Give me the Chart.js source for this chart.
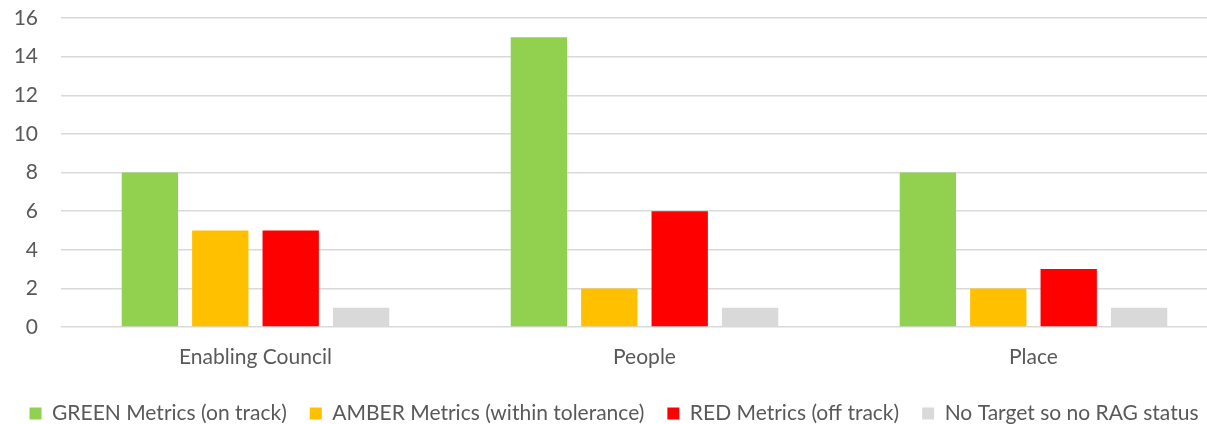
<!DOCTYPE html>
<html>
<head>
<meta charset="utf-8">
<script src="https://cdn.jsdelivr.net/npm/chart.js@4"></script>
<style>
html,body{margin:0;padding:0;background:#fff;overflow:hidden;}
#wrap{width:1228px;height:424px;}
</style>
</head>
<body>
<div id="wrap"><canvas id="c" width="1228" height="424"></canvas></div>
<script>
const categories = ["Enabling Council", "People", "Place"];
const greenValues = [8, 15, 8];
const amberValues = [5, 2, 2];
const redValues = [5, 6, 3];
const noTargetValues = [1, 1, 1];
const seriesNames = ["GREEN Metrics (on track)", "AMBER Metrics (within tolerance)", "RED Metrics (off track)", "No Target so no RAG status"];
const seriesColors = ["#92D050", "#FFC000", "#FF0000", "#D9D9D9"];
const yTicks = [0, 2, 4, 6, 8, 10, 12, 14, 16];

const FONT = "Lato, 'Open Sans', sans-serif";
const TEXT = "#595959";
const allValues = [greenValues, amberValues, redValues, noTargetValues];

new Chart(document.getElementById('c'), {
  type: 'bar',
  data: {
    labels: categories,
    datasets: allValues.map((v, i) => ({
      label: seriesNames[i],
      data: v,
      backgroundColor: seriesColors[i],
      borderWidth: 0,
      categoryPercentage: 0.724,
      barPercentage: 0.8
    }))
  },
  options: {
    responsive: false,
    animation: false,
    layout: { autoPadding: false, padding: { top: 18, left: 0, right: 0, bottom: -10 } },
    plugins: {
      tooltip: { enabled: false },
      legend: {
        position: 'bottom',
        labels: {
          font: { family: FONT, size: 21 },
          color: TEXT,
          boxWidth: 12,
          boxHeight: 12,
          padding: 23
        }
      }
    },
    scales: {
      x: {
        grid: { display: false, drawTicks: false },
        border: { display: false },
        ticks: { font: { family: FONT, size: 21 }, color: TEXT, padding: 18 },
        afterFit: (axis) => { axis.height = 53; }
      },
      y: {
        min: 0,
        max: 16,
        afterBuildTicks: (axis) => { axis.ticks = yTicks.map(v => ({ value: v })); },
        grid: { color: "#D9D9D9", lineWidth: 1.5, drawTicks: false },
        border: { display: false },
        ticks: { font: { family: FONT, size: 21 }, color: TEXT, padding: 23 },
        afterFit: (axis) => { axis.width = 61; axis.paddingTop = 0; axis.paddingBottom = 0; }
      }
    }
  }
});
</script>
</body>
</html>
